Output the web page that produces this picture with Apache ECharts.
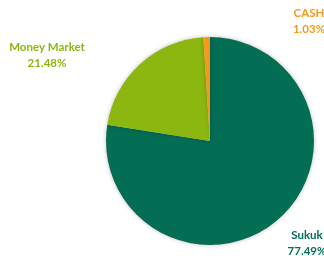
<!DOCTYPE html>
<html>
<head>
<meta charset="utf-8">
<script src="https://cdn.jsdelivr.net/npm/echarts@6/dist/echarts.min.js"></script>
<style>
html, body { margin: 0; padding: 0; background: #fff; }
#main { width: 324px; height: 256px; }
</style>
</head>
<body>
<div id="main"></div>
<script>
var names = ['Sukuk', 'Money Market', 'CASH'];
var values = [77.49, 21.48, 1.03];
var colors = ['#046E55', '#8CB710', '#F39A1E'];
var labelSpots = [[307, 243], [47, 55], [309, 21]];

var chart = echarts.init(document.getElementById('main'));
var data = names.map(function (n, i) {
    return {
        name: n,
        value: values[i],
        itemStyle: { color: colors[i] },
        label: { color: colors[i] }
    };
});
chart.setOption({
    animation: false,
    series: [{
        type: 'pie',
        center: [210, 141],
        radius: [0, 104],
        startAngle: 90,
        clockwise: true,
        avoidLabelOverlap: false,
        minShowLabelAngle: 0,
        data: data,
        itemStyle: {
            borderWidth: 0,
            shadowBlur: 4,
            shadowColor: 'rgba(0,0,0,0.25)'
        },
        label: {
            show: true,
            position: 'outside',
            formatter: function (p) {
                return p.name + '\n' + p.value.toFixed(2) + '%';
            },
            fontFamily: 'Lato',
            fontWeight: 'bold',
            fontSize: 11.5,
            lineHeight: 16,
            align: 'center'
        },
        labelLine: { show: false },
        labelLayout: function (p) {
            var s = labelSpots[p.dataIndex];
            return { x: s[0], y: s[1], align: 'center', verticalAlign: 'middle', hideOverlap: false };
        }
    }]
});
</script>
</body>
</html>
